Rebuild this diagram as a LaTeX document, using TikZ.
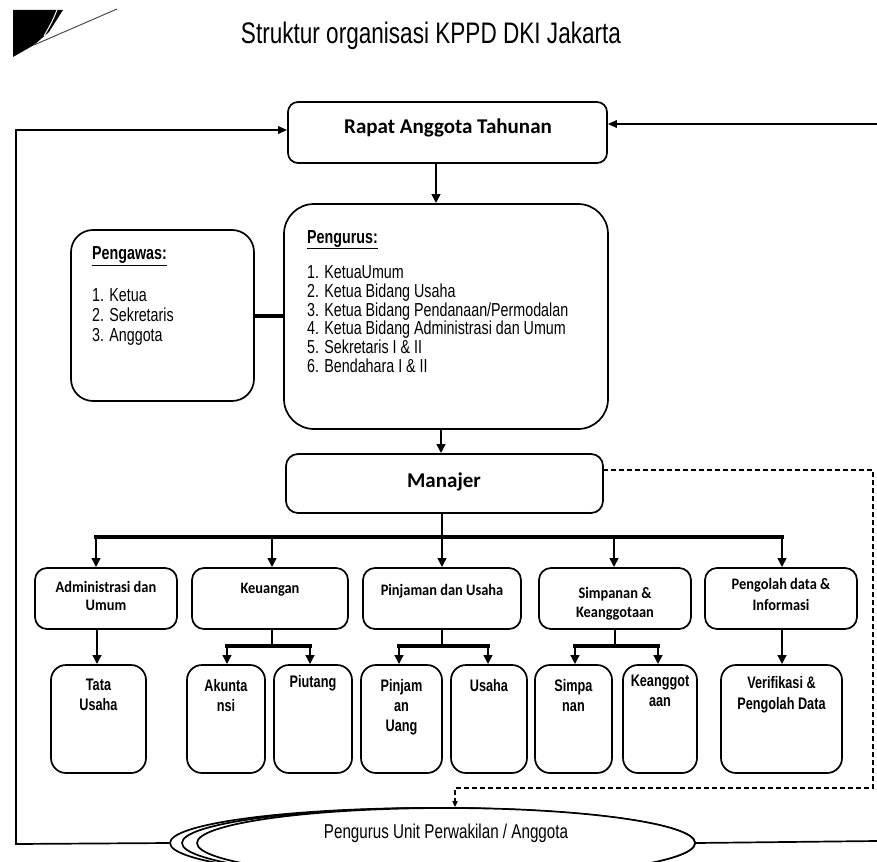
\documentclass[tikz,border=0pt]{standalone}
\usepackage{fontspec}
\setmainfont{Liberation Sans}
\newfontfamily\narrowf[FakeStretch=0.76]{Liberation Sans}
\newfontfamily\calf[FakeStretch=0.9]{Carlito}
\newfontfamily\calw{Carlito}
\usetikzlibrary{arrows.meta,shapes.geometric}
\newcommand\mybox[6]{\node[boxst, rounded corners=#6, minimum width={(#4-#2)*1pt}, minimum height={(#5-#3)*1pt}] (#1) at ({(#2+#4)/2},{(#3+#5)/2}) {};}
\begin{document}
\begin{tikzpicture}[x=1pt,y=-1pt,
  boxst/.style={draw, line width=1.7pt, inner sep=0pt, fill=white},
  arr/.style={line width=2.4pt, -{Triangle[length=9pt,width=8.5pt]}},
  thinarr/.style={line width=1.7pt, -{Triangle[length=9pt,width=7.5pt]}},
  busst/.style={line width=3.8pt, line cap=rect},
  dashst/.style={line width=1.7pt, dash pattern=on 5pt off 3pt, -{Triangle[length=6pt,width=5pt]}},
  tnarrow/.style={inner sep=0pt, font=\narrowf\fontsize{18.8}{20}\selectfont},
  tcal/.style={inner sep=0pt, align=center, font=\calf\bfseries\fontsize{16}{18}\selectfont},
  tsub/.style={inner sep=0pt, align=center, anchor=north, font=\narrowf\bfseries\fontsize{16.7}{20}\selectfont},
  ellst/.style={ellipse, draw, line width=1.7pt, inner sep=0pt, minimum height=70pt}
]
\useasboundingbox (0,0) rectangle (877,861);
\clip (0,0) rectangle (877,861);

% corner decoration
\fill (13,10) -- (63,10) -- (49,32) -- (34,45) -- (13,57) -- cycle;
\draw[white, line width=1pt] (57,10) .. controls (52,22) .. (44,36);
\draw[black!70, line width=1pt] (34,45) -- (117,9);

% title
\node[anchor=base, inner sep=0pt, font=\narrowf\fontsize{29.7}{32}\selectfont] (title) at (431,44) {Struktur organisasi KPPD DKI Jakarta};

% main boxes
\mybox{rapat}{288}{102}{607}{163}{10pt}
\node[anchor=base, inner sep=0pt, font=\calw\bfseries\fontsize{21}{24}\selectfont] (trapat) at (448,134) {Rapat Anggota Tahunan};

\mybox{pengurus}{284}{204}{608}{429}{30pt}
\node[tnarrow, anchor=base west, font=\narrowf\bfseries\fontsize{18.8}{20}\selectfont] (tpengurus) at (307,243) {\underline{Pengurus:}};
\node[tnarrow, anchor=north west, align=left, font=\narrowf\fontsize{18.8}{18.7}\selectfont] (lpengurus) at (307,265.5)
 {1. KetuaUmum\\2. Ketua Bidang Usaha\\3. Ketua Bidang Pendanaan/Permodalan\\4. Ketua Bidang Administrasi dan Umum\\5. Sekretaris I \& II\\6. Bendahara I \& II};

\mybox{pengawas}{71}{230}{254}{401}{22pt}
\node[tnarrow, anchor=base west, font=\narrowf\bfseries\fontsize{18.8}{20}\selectfont] (tpengawas) at (92,259.5) {\underline{Pengawas:}};
\node[tnarrow, anchor=north west, align=left] (lpengawas) at (92,288.5) {1. Ketua\\2. Sekretaris\\3. Anggota};

\mybox{mgr}{286}{454}{603}{513}{12pt}
\node[anchor=base, inner sep=0pt, font=\calw\bfseries\fontsize{21}{24}\selectfont] (tmgr) at (444,487) {Manajer};

% row boxes
\mybox{admin}{35}{568}{177}{629}{12pt}
\mybox{keu}{192}{568}{348}{629}{12pt}
\mybox{pinj}{363}{568}{521}{629}{12pt}
\mybox{simp}{539}{568}{691}{629}{12pt}
\mybox{peng}{705}{568}{857}{629}{12pt}
\node[tcal, anchor=north] (tadmin) at (106,581.5) {Administrasi dan\\Umum};
\node[tcal, anchor=base] (tkeu) at (270,593) {Keuangan};
\node[tcal, anchor=base] (tpinj) at (442,595) {Pinjaman dan Usaha};
\node[tcal, anchor=north, font=\calf\bfseries\fontsize{16}{19}\selectfont] (tsimp) at (615,587.5) {Simpanan \&\\Keanggotaan};
\node[tcal, anchor=north, font=\calf\bfseries\fontsize{16}{21}\selectfont] (tpeng) at (781,578.5) {Pengolah data \&\\Informasi};

% sub boxes
\mybox{tata}{51}{665}{146}{773}{15pt}
\mybox{akun}{187}{665}{265}{773}{15pt}
\mybox{piut}{274}{665}{352}{773}{15pt}
\mybox{pinjam}{361}{665}{442}{773}{15pt}
\mybox{usaha}{451}{665}{527}{773}{15pt}
\mybox{simpa}{535}{665}{612}{773}{15pt}
\mybox{keang}{623}{665}{697}{773}{15pt}
\mybox{verif}{721}{665}{842}{773}{15pt}
\node[tsub] (ttata) at (98.5,679) {Tata\\Usaha};
\node[tsub] (takun) at (226,679) {Akunta\\nsi};
\node[tsub] (tpiut) at (313,675) {Piutang};
\node[tsub] (tpinjam) at (401.5,679) {Pinjam\\an\\Uang};
\node[tsub] (tusaha) at (489,679) {Usaha};
\node[tsub] (tsimpa) at (573.5,679) {Simpa\\nan};
\node[tsub] (tkeang) at (660,675) {Keanggot\\aan};
\node[tsub, font=\narrowf\bfseries\fontsize{16.7}{21}\selectfont] (tverif) at (781.5,676) {Verifikasi \&\\Pengolah Data};

% ellipses
\node[ellst, minimum width=525pt] (ell3) at (432.5,843) {};
\node[ellst, minimum width=513pt] (ell2) at (438.5,843) {};
\node[ellst, minimum width=498pt, fill=white] (ell1) at (446,843) {};
\node[anchor=base, inner sep=0pt, font=\narrowf\fontsize{20}{22}\selectfont] (tell) at (446,838) {Pengurus Unit Perwakilan / Anggota};

% coordinates
\coordinate (x436) at (436,0);
\coordinate (x441) at (441,0);
\coordinate (busL) at (96,537);
\coordinate (busR) at (782,537);
\coordinate (busC) at (442,537);
\coordinate (bK) at (272,537);
\coordinate (bS) at (614,537);
\coordinate (kL) at (227,646);
\coordinate (kR) at (310,646);
\coordinate (kC) at (272,646);
\coordinate (pL) at (399,646);
\coordinate (pR) at (488,646);
\coordinate (pC) at (442,646);
\coordinate (sL) at (575,646);
\coordinate (sR) at (658,646);
\coordinate (sC) at (615,646);
\coordinate (aX) at (97,0);
\coordinate (lb) at (16,844);
\coordinate (lt) at (16,130);
\coordinate (rt) at (877,124);
\coordinate (rb) at (877,841);
\coordinate (d0) at (603,470);
\coordinate (d1) at (873,470);
\coordinate (d2) at (873,788);
\coordinate (d3) at (455,788);

% connectors
\draw[arr] (rapat.south -| x436) -- (pengurus.north -| x436);
\draw[line width=3.8pt] (pengawas.east |- 0,316) -- (pengurus.west |- 0,316);
\draw[arr] (pengurus.south -| x441) -- (mgr.north -| x441);

\draw[line width=2.4pt] (mgr.south -| busC) -- (busC);
\draw[busst] (busL) -- (busR);
\draw[arr] (busL) -- (admin.north -| busL);
\draw[arr] (bK) -- (keu.north -| bK);
\draw[arr] (busC) -- (pinj.north -| busC);
\draw[arr] (bS) -- (simp.north -| bS);
\draw[arr] (busR) -- (peng.north -| busR);

\draw[arr] (admin.south -| aX) -- (tata.north -| aX);
\draw[line width=2.4pt] (keu.south -| kC) -- (kC);
\draw[busst] (kL) -- (kR);
\draw[arr] (kL) -- (akun.north -| kL);
\draw[arr] (kR) -- (piut.north -| kR);
\draw[line width=2.4pt] (pinj.south -| pC) -- (pC);
\draw[busst] (pL) -- (pR);
\draw[arr] (pL) -- (pinjam.north -| pL);
\draw[arr] (pR) -- (usaha.north -| pR);
\draw[line width=2.4pt] (simp.south -| sC) -- (sC);
\draw[busst] (sL) -- (sR);
\draw[arr] (sL) -- (simpa.north -| sL);
\draw[arr] (sR) -- (keang.north -| sR);
\draw[arr] (peng.south -| busR) -- (verif.north -| busR);

\draw[thinarr] (ell3.west) -- (lb) -- (lt) -- (rapat.west |- lt);
\draw[thinarr] (rt) -- (rapat.east |- rt);
\draw[line width=1.7pt] (ell1.east) -- (rb);

\draw[dashst] (d0) -- (d1) -- (d2) -- (d3) -- (ell1.north -| d3);
\end{tikzpicture}
\end{document}
